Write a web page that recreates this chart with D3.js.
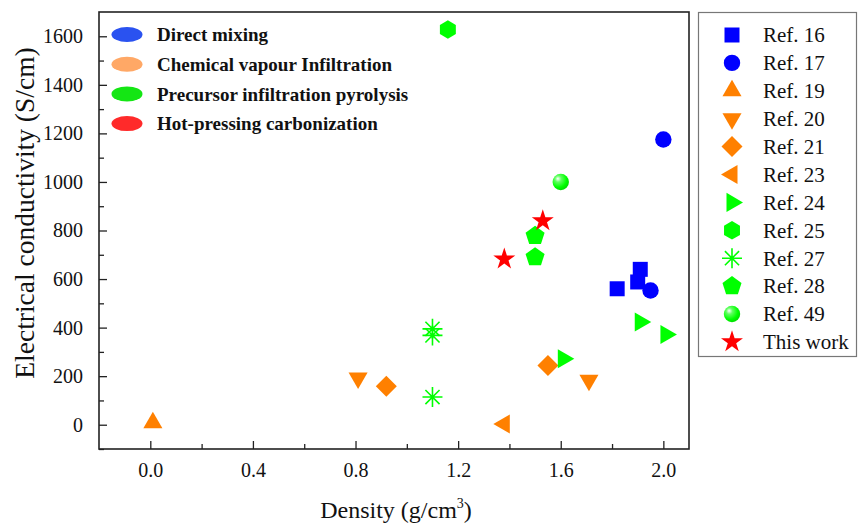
<!DOCTYPE html>
<html>
<head>
<meta charset="utf-8">
<script src="https://cdn.jsdelivr.net/npm/d3@7/dist/d3.min.js"></script>
<style>
  html, body { margin: 0; padding: 0; background: #fff; }
  svg { display: block; }
</style>
</head>
<body>
<svg id="chart" width="859" height="527"></svg>
<script>
// Synthesis routes (upper-left key)
const methodNames = ["Direct mixing", "Chemical vapour Infiltration", "Precursor infiltration pyrolysis", "Hot-pressing carbonization"];
const methodColors = ["#2a52f0", "#ffa866", "#14e614", "#ff2a2a"];

// Literature series: label, marker, colour, density (g/cm3), conductivity (S/cm)
const seriesNames   = ["Ref. 16", "Ref. 17", "Ref. 19", "Ref. 20", "Ref. 21", "Ref. 23", "Ref. 24", "Ref. 25", "Ref. 27", "Ref. 28", "Ref. 49", "This work"];
const seriesShapes  = ["square", "circle", "triUp", "triDown", "diamond", "triLeft", "triRight", "hexagon", "asterisk", "pentagon", "sphere", "star"];
const seriesColors  = ["#0000ff", "#0000ff", "#ff8000", "#ff8000", "#ff8000", "#ff8000", "#00ff00", "#00ff00", "#00ff00", "#00ff00", "#00ff00", "#ff0000"];
const seriesDensity = [
  [1.82, 1.90, 1.91],
  [1.95, 2.00],
  [0.01],
  [0.81, 1.71],
  [0.92, 1.55],
  [1.38],
  [1.61, 1.91, 2.01],
  [1.16],
  [1.10, 1.10, 1.10],
  [1.50, 1.50],
  [1.60],
  [1.38, 1.53]
];
const seriesConductivity = [
  [560, 588, 640],
  [553, 1175],
  [8],
  [192, 183],
  [158, 244],
  [3],
  [272, 423, 372],
  [1628],
  [395, 368, 114],
  [778, 690],
  [1000],
  [682, 840]
];

// Axis ticks
const xMajor = [0.0, 0.4, 0.8, 1.2, 1.6, 2.0];
const xMinor = [0.2, 0.6, 1.0, 1.4, 1.8];
const yMajor = [0, 200, 400, 600, 800, 1000, 1200, 1400, 1600];
const yMinor = [-100, 100, 300, 500, 700, 900, 1100, 1300, 1500];

const FONT = "Liberation Serif";
const svg = d3.select("#chart").attr("font-family", FONT);
const plot = { left: 99, right: 689, top: 12, bottom: 449 };

const x = d3.scaleLinear().domain([-0.2, 2.1]).range([plot.left, plot.right]);
const y = d3.scaleLinear().domain([-100, 1700]).range([plot.bottom, plot.top]);

// Gradient for the shaded sphere marker
const defs = svg.append("defs");
const grad = defs.append("radialGradient").attr("id", "sphereGrad")
  .attr("cx", "0.38").attr("cy", "0.35").attr("r", "0.65").attr("fx", "0.32").attr("fy", "0.3");
grad.append("stop").attr("offset", "0").attr("stop-color", "#ffffff");
grad.append("stop").attr("offset", "0.3").attr("stop-color", "#60ff60");
grad.append("stop").attr("offset", "0.75").attr("stop-color", "#00ff00");
grad.append("stop").attr("offset", "1").attr("stop-color", "#00e000");

function polygon(n, r, rot) {
  const pts = d3.range(n).map(i => {
    const a = rot + i * 2 * Math.PI / n;
    return [r * Math.cos(a), r * Math.sin(a)];
  });
  return "M" + pts.map(p => p[0].toFixed(2) + "," + p[1].toFixed(2)).join("L") + "Z";
}

function shapePath(shape) {
  switch (shape) {
    case "square":   return "M-7.5,-7.5H7.5V7.5H-7.5Z";
    case "circle":
    case "sphere":   return d3.symbol(d3.symbolCircle, Math.PI * 8.2 * 8.2)();
    case "triUp":    return polygon(3, 11, -Math.PI / 2);
    case "triDown":  return polygon(3, 11, Math.PI / 2);
    case "triLeft":  return polygon(3, 11, Math.PI);
    case "triRight": return polygon(3, 11, 0);
    case "diamond":  return polygon(4, 10.5, 0);
    case "hexagon":  return polygon(6, 9.2, -Math.PI / 2);
    case "pentagon": return polygon(5, 10, -Math.PI / 2);
    case "star":     return d3.symbol(d3.symbolStar, 150)();
    case "asterisk": {
      const r = 10, d = r * Math.SQRT1_2;
      return `M${-r},0H${r}M0,${-r}V${r}M${-d},${-d}L${d},${d}M${-d},${d}L${d},${-d}`;
    }
  }
}

function drawMarker(g, shape, color) {
  const p = g.append("path").attr("d", shapePath(shape));
  if (shape === "asterisk") {
    p.attr("fill", "none").attr("stroke", color).attr("stroke-width", 1.6);
  } else if (shape === "sphere") {
    p.attr("fill", "url(#sphereGrad)");
  } else {
    p.attr("fill", color);
  }
}

// Axes with inward ticks
svg.append("g").attr("transform", `translate(0,${plot.bottom})`)
  .call(d3.axisBottom(x).tickValues(xMajor).tickSize(-8).tickPadding(14).tickFormat(d3.format(".1f")));
svg.append("g").attr("transform", `translate(0,${plot.bottom})`)
  .call(d3.axisBottom(x).tickValues(xMinor).tickSize(-5).tickFormat(""));
svg.append("g").attr("transform", `translate(${plot.left},0)`)
  .call(d3.axisLeft(y).tickValues(yMajor).tickSize(-8).tickPadding(16).tickFormat(d3.format("d")));
svg.append("g").attr("transform", `translate(${plot.left},0)`)
  .call(d3.axisLeft(y).tickValues(yMinor).tickSize(-5).tickFormat(""));

svg.selectAll(".domain").remove();
svg.selectAll("g").filter(function () { return this.getAttribute("font-family"); })
  .attr("font-family", FONT).attr("font-size", 20);
svg.selectAll(".tick line").attr("stroke", "#222").attr("stroke-width", 1.3);
svg.selectAll(".tick text").attr("fill", "#111");

// Plot frame
svg.append("rect").attr("x", plot.left).attr("y", plot.top)
  .attr("width", plot.right - plot.left).attr("height", plot.bottom - plot.top)
  .attr("fill", "none").attr("stroke", "#222").attr("stroke-width", 1.6);

// Axis titles
svg.append("text").attr("transform", "translate(34,213) rotate(-90)")
  .attr("text-anchor", "middle").attr("font-size", 27.5).attr("fill", "#111")
  .text("Electrical conductivity (S/cm)");
const xt = svg.append("text").attr("x", 396).attr("y", 518)
  .attr("text-anchor", "middle").attr("font-size", 24).attr("fill", "#111");
xt.append("tspan").text("Density (g/cm");
xt.append("tspan").attr("dy", -10).attr("font-size", 14).text("3");
xt.append("tspan").attr("dy", 10).text(")");

// Data markers
seriesNames.forEach((name, i) => {
  const g = svg.append("g").attr("class", "series");
  seriesDensity[i].forEach((dx, j) => {
    const m = g.append("g").attr("transform", `translate(${x(dx)},${y(seriesConductivity[i][j])})`);
    drawMarker(m, seriesShapes[i], seriesColors[i]);
  });
});

// Method key (upper left)
const mk = svg.append("g");
methodNames.forEach((name, i) => {
  const cy = 34.5 + i * 29.7;
  mk.append("ellipse").attr("cx", 127).attr("cy", cy).attr("rx", 15.5).attr("ry", 7.5)
    .attr("fill", methodColors[i]);
  mk.append("text").attr("x", 157).attr("y", cy).attr("dy", "0.35em")
    .attr("font-size", 19).attr("font-weight", "bold").attr("fill", "#111").text(name);
});

// Series legend (right)
const lg = svg.append("g");
lg.append("rect").attr("x", 698.5).attr("y", 12.5).attr("width", 158).attr("height", 344)
  .attr("fill", "#fff").attr("stroke", "#777").attr("stroke-width", 1.2);
seriesNames.forEach((name, i) => {
  const cy = 35 + i * 27.9;
  const m = lg.append("g").attr("transform", `translate(732,${cy})`);
  drawMarker(m, seriesShapes[i], seriesColors[i]);
  lg.append("text").attr("x", 763).attr("y", cy).attr("dy", "0.35em")
    .attr("font-size", 21).attr("fill", "#111").text(name);
});
</script>
</body>
</html>
